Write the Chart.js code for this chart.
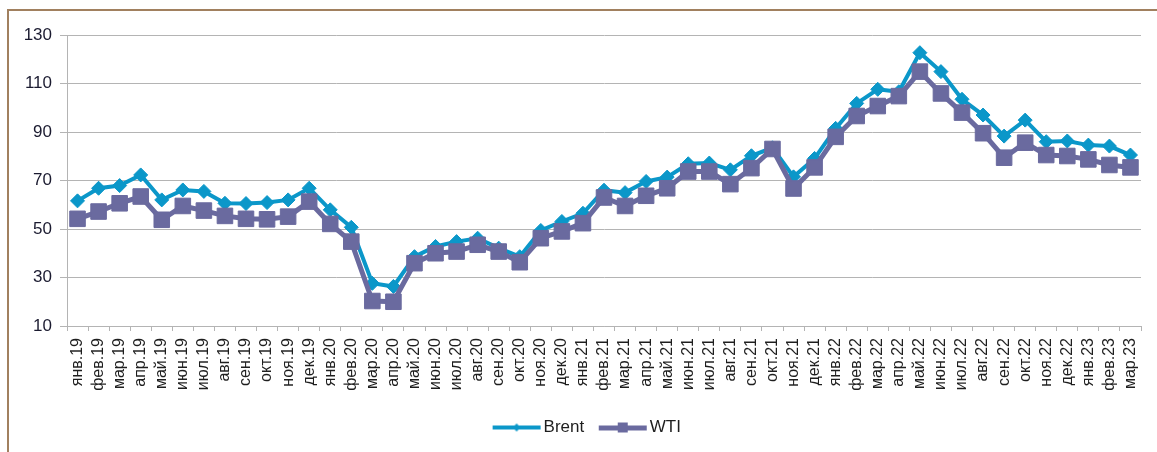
<!DOCTYPE html>
<html>
<head>
<meta charset="utf-8">
<script src="https://cdn.jsdelivr.net/npm/chart.js@4.4.1/dist/chart.umd.min.js"></script>
<style>
  html, body { margin: 0; padding: 0; background: #fff; overflow: hidden; }
  #frame { position: absolute; left: 7px; top: 9px; width: 1300px; height: 600px;
           border-left: 2px solid #a1805f; border-top: 2px solid #a1805f; }
  #wrap { position: absolute; left: 0; top: 0; width: 1157px; height: 452px; }
</style>
</head>
<body>
<div id="frame"></div>
<div id="wrap"><canvas id="oilChart"></canvas></div>
<script>
const months = [
  'янв.19', 'фев.19', 'мар.19', 'апр.19', 'май.19', 'июн.19', 'июл.19', 'авг.19', 'сен.19', 'окт.19', 'ноя.19', 'дек.19',
  'янв.20', 'фев.20', 'мар.20', 'апр.20', 'май.20', 'июн.20', 'июл.20', 'авг.20', 'сен.20', 'окт.20', 'ноя.20', 'дек.20',
  'янв.21', 'фев.21', 'мар.21', 'апр.21', 'май.21', 'июн.21', 'июл.21', 'авг.21', 'сен.21', 'окт.21', 'ноя.21', 'дек.21',
  'янв.22', 'фев.22', 'мар.22', 'апр.22', 'май.22', 'июн.22', 'июл.22', 'авг.22', 'сен.22', 'окт.22', 'ноя.22', 'дек.22',
  'янв.23', 'фев.23', 'мар.23'
];

// monthly average prices
const brentPrices = [
  61.6, 66.8, 67.9, 72.3, 62.0, 66.1, 65.5, 60.6, 60.5, 60.9, 62.0, 66.8,
  57.9, 50.7, 27.6, 26.3, 38.6, 42.8, 44.8, 46.2, 42.1, 38.6, 49.4, 53.1,
  56.5, 66.0, 65.0, 69.6, 71.4, 76.9, 77.2, 74.4, 80.2, 83.5, 71.5, 79.1,
  91.5, 101.8, 107.6, 106.6, 122.7, 114.9, 103.5, 97.0, 88.3, 94.9, 86.0, 86.3,
  84.6, 84.2, 80.5
];
const wtiPrices = [
  54.2, 57.2, 60.6, 63.4, 53.8, 59.5, 57.6, 55.4, 54.2, 54.0, 55.1, 61.3,
  52.1, 44.8, 20.3, 20.0, 35.9, 40.0, 40.7, 43.5, 40.7, 36.3, 46.2, 49.0,
  52.4, 63.0, 59.5, 63.7, 66.8, 73.7, 73.7, 68.5, 75.1, 83.0, 66.7, 75.4,
  88.0, 96.6, 100.7, 104.8, 114.9, 105.9, 98.0, 89.5, 79.4, 85.6, 80.5, 80.1,
  78.7, 76.4, 75.4
];
const yMin = 10;
const yMax = 130;
const yStep = 20;

const brentColor = '#0b97c9';
const wtiColor = '#6a6a9f';
const gridColor = '#b4b4b4';
const fontFamily = 'Liberation Sans, Arial, sans-serif';

// legend icons: thick line with the series marker in the middle.
// canvas is a bit wider than the drawing so the icon sits right next to its text
function makeIcon(color, shape) {
    const c = document.createElement('canvas');
    c.width = 56; c.height = 14;
    const g = c.getContext('2d');
    g.fillStyle = color;
    g.fillRect(7, 5, 48, shape === 'square' ? 5 : 4);
    if (shape === 'square') {
        g.fillRect(26, 2, 10, 10);
    } else {
        g.beginPath();
        g.moveTo(31, 3); g.lineTo(35, 7); g.lineTo(31, 11); g.lineTo(27, 7);
        g.closePath(); g.fill();
    }
    return c;
}
const legendIcons = [makeIcon(brentColor, 'diamond'), makeIcon(wtiColor, 'square')];

// the original legend sits a little right of the canvas centre
const legendShift = {
    id: 'legendShift',
    afterLayout(chart) {
        chart.legend.left += 32;
        chart.legend.right += 0;
    }
};

new Chart(document.getElementById('oilChart'), {
    type: 'line',
    data: {
        labels: months,
        datasets: [
            {
                label: 'Brent',
                data: brentPrices,
                borderColor: brentColor,
                backgroundColor: brentColor,
                borderWidth: 4,
                pointStyle: 'rectRot',
                pointRadius: 7,
                pointBorderWidth: 1,
                tension: 0,
                order: 1
            },
            {
                label: 'WTI',
                data: wtiPrices,
                borderColor: wtiColor,
                backgroundColor: wtiColor,
                borderWidth: 5,
                pointStyle: 'rect',
                pointRadius: 11,
                pointBorderWidth: 1,
                tension: 0,
                order: 0 // drawn over Brent
            }
        ]
    },
    options: {
        responsive: true,
        maintainAspectRatio: false,
        animation: false,
        layout: { padding: { top: 35, right: 16, bottom: 6, left: 0 } },
        plugins: {
            tooltip: { enabled: false },
            legend: {
                position: 'bottom',
                labels: {
                    usePointStyle: true,
                    pointStyleWidth: 43,
                    padding: 14,
                    color: '#1e1e1e',
                    font: { family: fontFamily, size: 17 },
                    sort: (a, b) => a.datasetIndex - b.datasetIndex,
                    generateLabels: chart => {
                        const items = Chart.defaults.plugins.legend.labels.generateLabels(chart);
                        items.forEach(it => { it.pointStyle = legendIcons[it.datasetIndex]; });
                        return items;
                    }
                }
            }
        },
        scales: {
            x: {
                offset: true,
                grid: { display: true, drawOnChartArea: false, offset: true, tickLength: 5, color: gridColor },
                border: { color: gridColor, width: 1 },
                ticks: {
                    autoSkip: false,
                    minRotation: 90,
                    maxRotation: 90,
                    padding: 7,
                    color: '#1e1e1e',
                    font: { family: fontFamily, size: 16 }
                },
                afterFit: scale => { scale.height = 79; }
            },
            y: {
                min: yMin,
                max: yMax,
                grid: { color: gridColor, tickLength: 7, lineWidth: 1 },
                border: { color: gridColor, width: 1 },
                ticks: {
                    stepSize: yStep,
                    padding: 8,
                    color: '#1b1b30',
                    font: { family: fontFamily, size: 17 }
                },
                afterFit: scale => { scale.width = 67; }
            }
        }
    },
    plugins: [legendShift]
});
</script>
</body>
</html>
